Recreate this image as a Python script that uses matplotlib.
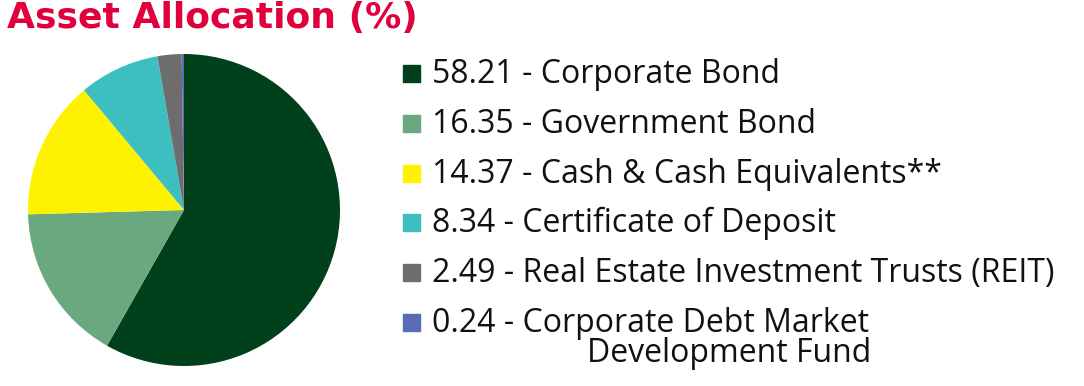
import matplotlib.pyplot as plt
from matplotlib.patches import Rectangle

values = [58.21, 16.35, 14.37, 8.34, 2.49, 0.24]
names = ["Corporate Bond", "Government Bond", "Cash & Cash Equivalents**",
         "Certificate of Deposit", "Real Estate Investment Trusts (REIT)",
         "Corporate Debt Market"]
extra_line = "Development Fund"
colors = ["#00401a", "#6aa87f", "#fff200", "#3dbfbf", "#6d6d6d", "#5b6bb5"]

W, H = 1084, 386
fig = plt.figure(figsize=(W / 100, H / 100), dpi=100)

# pie
ax = fig.add_axes([28 / W, 20 / H, 312 / W, 312 / H])
ax.pie(values, colors=colors, startangle=90, counterclock=False,
       wedgeprops=dict(linewidth=0))
ax.set_xlim(-1.0, 1.0)
ax.set_ylim(-1.0, 1.0)
ax.set_aspect("equal")

# title
fig.text(7 / W, 1 - 28 / H, "Asset Allocation (%)", color="#e0003c",
         fontsize=26, fontweight="bold", family="DejaVu Sans",
         va="baseline", ha="left")

# legend
base0 = 83
step = 49.8
fs = 23
for i, (v, n, c) in enumerate(zip(values, names, colors)):
    yb = base0 + i * step
    fig.patches.append(Rectangle((403 / W, 1 - (yb - 1) / H), 17 / W, 17 / H,
                                 transform=fig.transFigure, color=c))
    fig.text(432 / W, 1 - yb / H, f"{v:.2f} - {n}", fontsize=fs,
             family="Open Sans", va="baseline", ha="left", color="#111111")
fig.text(587 / W, 1 - (base0 + 5 * step + 30) / H, extra_line, fontsize=fs,
         family="Open Sans", va="baseline", ha="left", color="#111111")

fig.savefig("out.png", dpi=100)
